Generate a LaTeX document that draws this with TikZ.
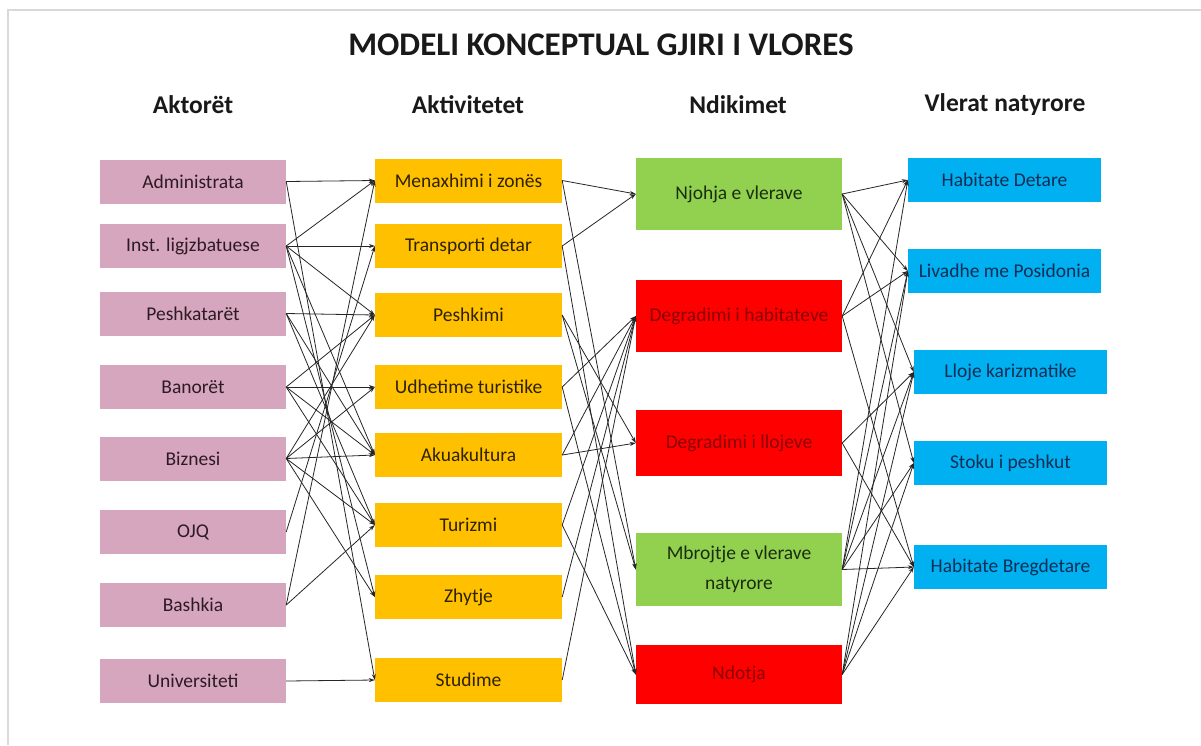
\documentclass[tikz,border=0pt]{standalone}
\usepackage{fontspec}
\setmainfont{Carlito}
\usetikzlibrary{arrows.meta}
\definecolor{pinkbox}{HTML}{D5A6BD}
\definecolor{orangebox}{HTML}{FFC000}
\definecolor{greenbox}{HTML}{92D050}
\definecolor{redbox}{HTML}{FF0000}
\definecolor{bluebox}{HTML}{00B0F0}
\definecolor{pinktext}{HTML}{2E1A24}
\definecolor{orangetext}{HTML}{2E2200}
\definecolor{greentext}{HTML}{1A2E0E}
\definecolor{redtext}{HTML}{8A0000}
\definecolor{bluetext}{HTML}{102E55}
\definecolor{framegray}{HTML}{D9D9D9}
\begin{document}
\begin{tikzpicture}[x=1pt,y=-1pt,
  box/.style={inner sep=0pt, minimum height=44pt, align=center,
    font=\fontsize{19.5}{22}\selectfont},
  abox/.style={box, fill=pinkbox, minimum width=186pt, text=pinktext},
  bbox/.style={box, fill=orangebox, minimum width=187pt, text=orangetext},
  gbox/.style={box, fill=greenbox, minimum width=206pt, text=greentext},
  rbox/.style={box, fill=redbox, minimum width=206pt, text=redtext},
  vbox/.style={box, fill=bluebox, minimum width=193pt, text=bluetext},
  head/.style={font=\fontsize{25.5}{30}\selectfont\bfseries, text=black!90},
  link/.style={-{Stealth[length=6pt,width=4pt]}, line width=0.8pt, black!85}
]
\useasboundingbox (0,0) rectangle (1201,745);
\fill[white] (0,0) rectangle (1201,745);
\draw[framegray, line width=1.2pt] (1201,10) -- (8,10) -- (8,745);

\node[font=\fontsize{33}{38}\selectfont\bfseries, text=black!90] (title) at (601,45) {MODELI KONCEPTUAL GJIRI I VLORES};
\node[head] (h1) at (193,105) {Aktorët};
\node[head] (h2) at (468,105) {Aktivitetet};
\node[head] (h3) at (738,105) {Ndikimet};
\node[head] (h4) at (1005,105) {Vlerat natyrore};

% Actors
\node[abox] (a1) at (193,181.5) {Administrata};
\node[abox] (a2) at (193,246) {Inst. ligjzbatuese};
\node[abox] (a3) at (193,313.5) {Peshkatarët};
\node[abox] (a4) at (193,387) {Banorët};
\node[abox] (a5) at (193,458.5) {Biznesi};
\node[abox] (a6) at (193,532) {OJQ};
\node[abox] (a7) at (193,605) {Bashkia};
\node[abox] (a8) at (193,681) {Universiteti};

% Activities
\node[bbox] (b1) at (468.5,180.5) {Menaxhimi i zonës};
\node[bbox] (b2) at (468.5,246) {Transporti detar};
\node[bbox] (b3) at (468.5,315) {Peshkimi};
\node[bbox] (b4) at (468.5,387) {Udhetime turistike};
\node[bbox] (b5) at (468.5,455) {Akuakultura};
\node[bbox] (b6) at (468.5,525) {Turizmi};
\node[bbox] (b7) at (468.5,597) {Zhytje};
\node[bbox] (b8) at (468.5,680) {Studime};

% Impacts
\node[gbox, minimum height=72pt] (c1) at (739,194) {Njohja e vlerave};
\node[rbox, minimum height=72pt] (c2) at (739,316) {Degradimi i habitateve};
\node[rbox, minimum height=66pt] (c3) at (739,443) {Degradimi i llojeve};
\node[gbox, minimum height=73pt, font=\fontsize{19.5}{30}\selectfont] (c4) at (739,569.5) {Mbrojtje e vlerave\\natyrore};
\node[rbox, minimum height=59pt] (c5) at (739,674.5) {Ndotja};

% Natural values
\node[vbox] (d1) at (1004.5,180) {Habitate Detare};
\node[vbox] (d2) at (1004.5,271) {Livadhe me Posidonia};
\node[vbox] (d3) at (1010.5,372) {Lloje karizmatike};
\node[vbox] (d4) at (1010.5,463) {Stoku i peshkut};
\node[vbox] (d5) at (1010.5,567) {Habitate Bregdetare};

% Actors -> Activities
\foreach \s/\t in {a1/b1,a1/b8,
                   a2/b1,a2/b2,a2/b3,a2/b5,a2/b7,
                   a3/b3,a3/b5,a3/b6,
                   a4/b3,a4/b4,a4/b5,a4/b6,
                   a5/b3,a5/b4,a5/b5,a5/b6,a5/b7,
                   a6/b2,
                   a7/b1,a7/b6,
                   a8/b8}
  \draw[link] (\s.east) -- (\t.west);

% Activities -> Impacts
\foreach \s/\t in {b1/c1,b1/c4,
                   b2/c1,b2/c5,
                   b3/c3,b3/c4,
                   b4/c2,b4/c5,
                   b5/c2,b5/c3,
                   b6/c2,b6/c5,
                   b7/c2,
                   b8/c2}
  \draw[link] (\s.east) -- (\t.west);

% Impacts -> Natural values
\foreach \s/\t in {c1/d1,c1/d2,c1/d3,c1/d4,
                   c2/d1,c2/d2,c2/d5,
                   c3/d3,c3/d5,
                   c4/d1,c4/d2,c4/d3,c4/d4,c4/d5,
                   c5/d2,c5/d3,c5/d4,c5/d5}
  \draw[link] (\s.east) -- (\t.west);
\end{tikzpicture}
\end{document}
